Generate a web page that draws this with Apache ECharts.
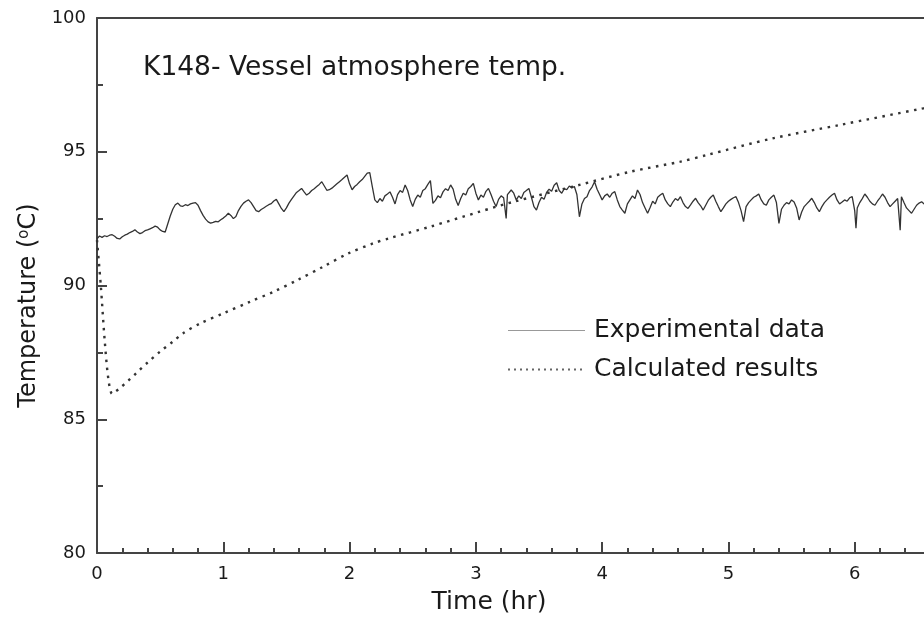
<!DOCTYPE html>
<html>
<head>
<meta charset="utf-8">
<script src="https://cdn.jsdelivr.net/npm/echarts@6/dist/echarts.min.js"></script>
<style>html,body{margin:0;padding:0;background:#fff;}#c{width:924px;height:623px;}</style>
</head>
<body>
<div id="c"></div>
<script>
const titleText = 'K148- Vessel atmosphere temp.';
const seriesNames = ['Experimental data', 'Calculated results'];
const xTicks = [0, 1, 2, 3, 4, 5, 6, 7];
const yTicks = [80, 85, 90, 95, 100];

const expTime = [0.00,0.02,0.04,0.06,0.08,0.10,0.12,0.14,0.16,0.18,0.20,0.22,0.24,0.26,0.28,0.30,0.32,0.34,0.36,0.38,0.40,0.42,0.44,0.46,0.48,0.50,0.52,0.54,0.56,0.58,0.60,0.62,0.64,0.66,0.68,0.70,0.72,0.74,0.76,0.78,0.80,0.82,0.84,0.86,0.88,0.90,0.92,0.94,0.96,0.98,
1.00,1.02,1.04,1.06,1.08,1.10,1.12,1.14,1.16,1.18,1.20,1.22,1.24,1.26,1.28,1.30,1.32,1.34,1.36,1.38,1.40,1.42,1.44,1.46,1.48,1.50,1.52,1.54,1.56,1.58,1.60,1.62,1.64,1.66,1.68,1.70,1.72,1.74,1.76,1.78,1.80,1.82,1.84,1.86,1.88,1.90,1.92,1.94,1.96,1.98,
2.00,2.02,2.04,2.06,2.08,2.10,2.12,2.14,2.16,2.18,2.20,2.22,2.24,2.26,2.28,2.30,2.32,2.34,2.36,2.38,2.40,2.42,2.44,2.46,2.48,2.50,2.52,2.54,2.56,2.58,2.60,2.62,2.64,2.66,2.68,2.70,2.72,2.74,2.76,2.78,2.80,2.82,2.84,2.86,2.88,2.90,2.92,2.94,2.96,2.98,
3.00,3.02,3.04,3.06,3.08,3.10,3.12,3.14,3.16,3.18,3.20,3.22,3.24,3.25,3.28,3.30,3.32,3.34,3.36,3.38,3.40,3.42,3.44,3.46,3.48,3.50,3.52,3.54,3.56,3.58,3.60,3.62,3.64,3.66,3.68,3.70,3.72,3.74,3.76,3.78,3.80,3.82,3.84,3.86,3.88,3.90,3.92,3.94,3.96,3.98,
4.00,4.02,4.04,4.06,4.08,4.10,4.12,4.14,4.16,4.18,4.20,4.22,4.24,4.26,4.28,4.30,4.32,4.34,4.36,4.38,4.40,4.42,4.44,4.46,4.48,4.50,4.52,4.54,4.56,4.58,4.60,4.62,4.64,4.66,4.68,4.70,4.72,4.74,4.76,4.78,4.80,4.82,4.84,4.86,4.88,4.90,4.92,4.94,4.96,4.98,
5.00,5.02,5.04,5.06,5.08,5.10,5.12,5.14,5.16,5.18,5.20,5.22,5.24,5.26,5.28,5.30,5.32,5.34,5.36,5.38,5.40,5.42,5.44,5.46,5.48,5.50,5.52,5.54,5.56,5.58,5.60,5.62,5.64,5.66,5.68,5.70,5.72,5.74,5.76,5.78,5.80,5.82,5.84,5.86,5.88,5.90,5.92,5.94,5.96,5.98,
6.00,6.01,6.02,6.04,6.06,6.08,6.10,6.12,6.14,6.16,6.18,6.20,6.22,6.24,6.26,6.28,6.30,6.32,6.34,6.36,6.37,6.39,6.41,6.43,6.45,6.47,6.49,6.51,6.53,6.55,6.57];
const expTemp = [91.75,91.85,91.80,91.86,91.83,91.88,91.90,91.84,91.76,91.74,91.82,91.88,91.92,91.98,92.02,92.08,92.00,91.94,91.98,92.05,92.08,92.12,92.16,92.22,92.18,92.08,92.02,92.00,92.30,92.60,92.85,93.02,93.08,92.98,92.96,93.02,92.99,93.05,93.08,93.10,93.00,92.80,92.62,92.48,92.38,92.33,92.36,92.40,92.38,92.46,
92.52,92.60,92.70,92.62,92.50,92.58,92.80,92.96,93.08,93.15,93.20,93.10,92.95,92.80,92.76,92.84,92.90,92.96,93.02,93.06,93.16,93.22,93.05,92.88,92.76,92.90,93.08,93.22,93.35,93.48,93.55,93.63,93.50,93.38,93.45,93.55,93.62,93.70,93.78,93.88,93.72,93.56,93.58,93.64,93.72,93.80,93.88,93.96,94.05,94.13,
93.80,93.58,93.70,93.78,93.88,93.96,94.08,94.20,94.22,93.70,93.20,93.10,93.25,93.15,93.35,93.42,93.50,93.30,93.05,93.40,93.55,93.48,93.76,93.55,93.20,92.95,93.22,93.38,93.30,93.55,93.62,93.78,93.92,93.07,93.18,93.35,93.28,93.50,93.62,93.55,93.76,93.60,93.22,92.99,93.25,93.45,93.38,93.62,93.70,93.82,
93.45,93.20,93.38,93.30,93.52,93.63,93.40,93.15,92.95,93.22,93.35,93.28,92.51,93.40,93.57,93.45,93.20,93.35,93.25,93.48,93.55,93.63,93.30,92.95,92.82,93.10,93.30,93.22,93.48,93.60,93.52,93.75,93.84,93.55,93.45,93.62,93.58,93.72,93.65,93.70,93.40,92.57,93.05,93.25,93.32,93.55,93.68,93.88,93.60,93.40,
93.20,93.35,93.42,93.30,93.45,93.51,93.20,92.95,92.82,92.70,93.05,93.20,93.35,93.25,93.57,93.40,93.10,92.90,92.70,92.92,93.15,93.05,93.30,93.38,93.45,93.20,93.05,92.95,93.12,93.25,93.18,93.32,93.10,92.95,92.88,93.01,93.15,93.26,93.10,92.98,92.82,93.00,93.18,93.30,93.38,93.15,92.95,92.76,92.90,93.05,
93.15,93.22,93.28,93.32,93.10,92.80,92.39,92.95,93.10,93.20,93.30,93.35,93.42,93.20,93.05,93.00,93.20,93.30,93.38,93.10,92.32,92.85,93.00,93.10,93.05,93.20,93.12,92.90,92.45,92.75,92.95,93.05,93.15,93.26,93.10,92.90,92.76,92.95,93.10,93.20,93.30,93.38,93.45,93.20,93.05,93.12,93.20,93.15,93.28,93.32,
92.80,92.14,92.90,93.10,93.25,93.42,93.30,93.15,93.05,93.00,93.15,93.28,93.42,93.30,93.10,92.95,93.05,93.15,93.25,92.07,93.32,93.10,92.90,92.80,92.70,92.85,93.00,93.08,93.13,93.05,93.10];

const calcTime = [0.00,0.03,0.06,0.09,0.12,0.15,0.18,0.25,0.31,0.40,0.50,0.60,0.68,0.82,1.00,1.21,1.40,1.59,1.79,1.99,2.19,2.31,2.64,3.03,3.30,3.82,4.22,4.62,4.83,5.35,5.88,6.54,6.62];
const calcTemp = [91.7,90.0,88.0,86.5,85.95,86.05,86.16,86.45,86.72,87.12,87.53,87.90,88.21,88.59,88.96,89.39,89.77,90.21,90.70,91.20,91.58,91.76,92.20,92.76,93.13,93.76,94.25,94.63,94.88,95.50,96.00,96.62,96.70];

const zip = (a, b) => a.map((v, i) => [v, b[i]]);
const FONT = 'DejaVu Sans';
const INK = '#1a1a1a';
const AXIS = '#444';

const chart = echarts.init(document.getElementById('c'), null, {renderer: 'canvas'});
chart.setOption({
  animation: false,
  backgroundColor: '#fff',
  title: {
    text: titleText,
    left: 143, top: 55, padding: 0,
    textStyle: {fontFamily: FONT, fontSize: 26.5, fontWeight: 'normal', color: INK}
  },
  legend: {
    data: [
      {name: seriesNames[0], lineStyle: {color: '#999', width: 1.2}},
      {name: seriesNames[1], lineStyle: {color: '#666', width: 2, type: [2, 4]}}
    ],
    orient: 'vertical',
    left: 507, top: 318, padding: 0,
    itemWidth: 77, itemHeight: 14, itemGap: 14,
    itemStyle: {opacity: 0},
    textStyle: {fontFamily: FONT, fontSize: 25, color: INK, padding: [0, 0, 0, 4]}
  },
  grid: {left: 97, top: 18, bottom: 70, right: -57, containLabel: false, outerBoundsMode: 'none'},
  xAxis: [{
    type: 'value', min: xTicks[0], max: xTicks[xTicks.length - 1], interval: 1,
    name: 'Time (hr)', nameLocation: 'middle', nameGap: 37,
    nameTextStyle: {fontFamily: FONT, fontSize: 25, color: INK, padding: [0, 100, 0, 0]},
    axisLine: {show: true, lineStyle: {color: AXIS, width: 2}},
    axisTick: {show: true, inside: true, length: 11, lineStyle: {color: AXIS, width: 2}},
    minorTick: {show: true, splitNumber: 5, length: 5, lineStyle: {color: AXIS, width: 2}},
    axisLabel: {fontFamily: FONT, fontSize: 18, color: INK, margin: 12},
    splitLine: {show: false}
  }, {
    type: 'value', position: 'top', min: xTicks[0], max: xTicks[xTicks.length - 1],
    axisLine: {show: true, lineStyle: {color: AXIS, width: 2}},
    axisTick: {show: false}, axisLabel: {show: false}, splitLine: {show: false}
  }],
  yAxis: {
    type: 'value', min: yTicks[0], max: yTicks[yTicks.length - 1], interval: 5,
    name: '{a|Temperature (}{s|o}{a|C)}', nameLocation: 'middle', nameGap: 55,
    nameTextStyle: {
      fontFamily: FONT, fontSize: 24, color: INK, padding: [0, 40, 0, 0],
      rich: {
        a: {fontFamily: FONT, fontSize: 24, color: INK},
        s: {fontFamily: FONT, fontSize: 15, color: INK, verticalAlign: 'top', padding: [0, 0, 8, 0]}
      }
    },
    axisLine: {show: true, lineStyle: {color: AXIS, width: 2}},
    axisTick: {show: true, inside: true, length: 10, lineStyle: {color: AXIS, width: 2}},
    minorTick: {show: true, splitNumber: 2, length: 6, lineStyle: {color: AXIS, width: 2}},
    axisLabel: {fontFamily: FONT, fontSize: 18, color: INK, margin: 11},
    splitLine: {show: false}
  },
  series: [{
    name: seriesNames[0], type: 'line', data: zip(expTime, expTemp),
    showSymbol: false, symbol: 'none', clip: true,
    lineStyle: {color: '#333', width: 1.3}
  }, {
    name: seriesNames[1], type: 'line', data: zip(calcTime, calcTemp),
    showSymbol: false, symbol: 'none', smooth: 0.3, clip: true,
    lineStyle: {color: '#333', width: 2.4, type: [2.5, 5.5]}
  }]
});
</script>
</body>
</html>
